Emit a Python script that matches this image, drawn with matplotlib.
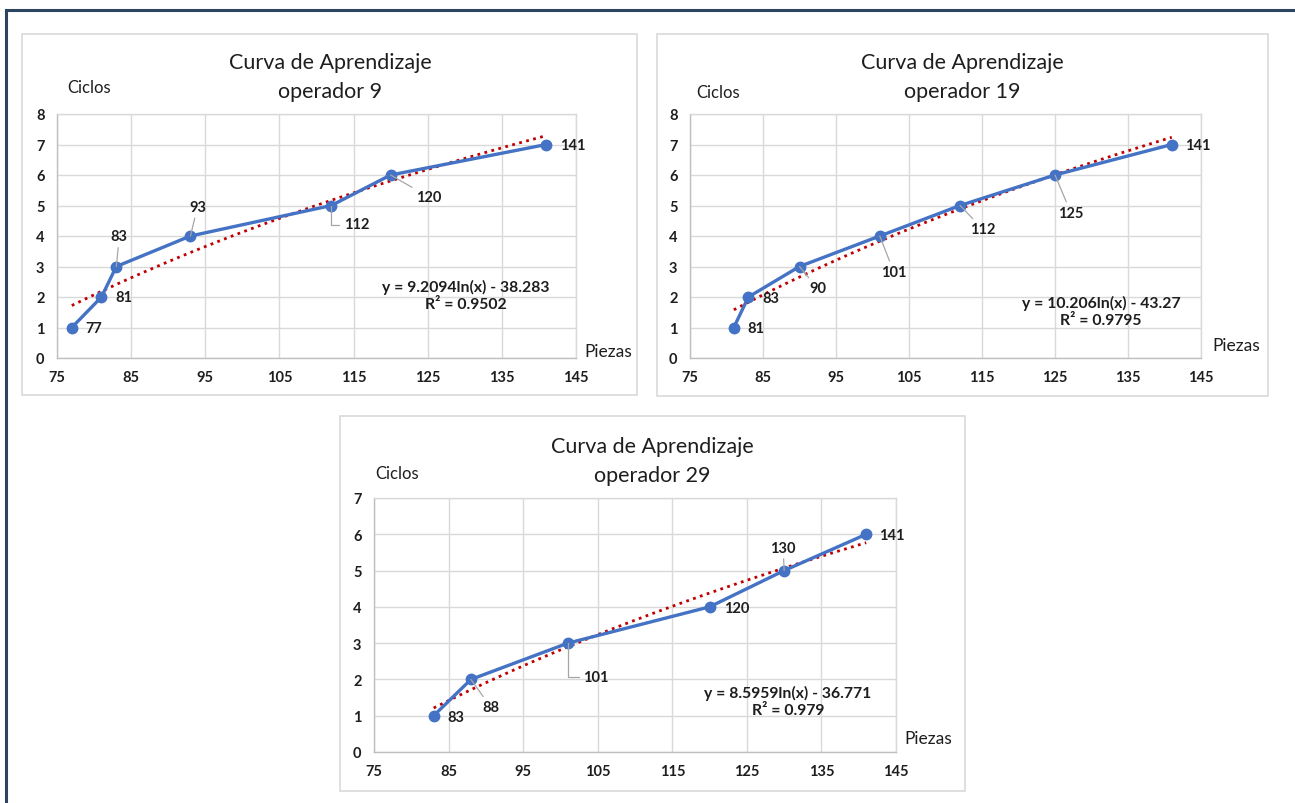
import numpy as np
import matplotlib.pyplot as plt
from matplotlib.patches import Rectangle
from matplotlib.lines import Line2D

plt.rcParams['font.family'] = ['Lato', 'DejaVu Sans']

W, H = 1295, 804

# piezas vs ciclos for each operator
op9_x = [77, 81, 83, 93, 112, 120, 141]
op9_y = [1, 2, 3, 4, 5, 6, 7]
op19_x = [81, 83, 90, 101, 112, 125, 141]
op19_y = [1, 2, 3, 4, 5, 6, 7]
op29_x = [83, 88, 101, 120, 130, 141]
op29_y = [1, 2, 3, 4, 5, 6]

# log trendline coefficients (a*ln(x) + b) and R²
op9_fit = (9.2094, -38.283, 0.9502)
op19_fit = (10.206, -43.27, 0.9795)
op29_fit = (8.5959, -36.771, 0.979)

op9_eq = "y = 9.2094ln(x) - 38.283\nR² = 0.9502"
op19_eq = "y = 10.206ln(x) - 43.27\nR² = 0.9795"
op29_eq = "y = 8.5959ln(x) - 36.771\nR² = 0.979"

x_ticks = [75, 85, 95, 105, 115, 125, 135, 145]

# label offsets in pixels (dx, dy down), leader style: None / 'line' / 'elbow'
op9_lbl = [(22, 1, None), (22, 0, None), (3, -30, 'line'), (7, -29, 'line'),
           (25, 19, 'elbow'), (38, 22, 'line'), (26, 1, None)]
op19_lbl = [(22, 1, None), (22, 1, None), (18, 22, 'line'), (14, 36, 'line'),
            (23, 24, 'line'), (16, 38, 'line'), (26, 1, None)]
op29_lbl = [(22, 1, None), (20, 28, 'line'), (28, 34, 'elbow'), (27, 1, None),
            (-1, -23, 'line'), (26, 1, None)]

BLUE = '#4472C4'
RED = '#C00000'
GRID = '#d9d9d9'
TXT = '#1e1e1e'


def fx(x):
    return x / W


def fy(y):
    return 1 - y / H


fig = plt.figure(figsize=(W / 100, H / 100), dpi=100)

# outer frame (top and left edges only)
fig.add_artist(Line2D([fx(6), fx(W)], [fy(10.5), fy(10.5)], color='#2c4460', lw=2.2))
fig.add_artist(Line2D([fx(6), fx(6)], [fy(10.5), fy(H)], color='#2c4460', lw=2.2))


def panel(box, plot, title, ciclos, piezas, xs, ys, fit, eq, eq_pos, ymax, lbls):
    l, t, r, b = box
    fig.add_artist(Rectangle((fx(l), fy(b)), fx(r - l), (b - t) / H,
                             fill=False, edgecolor='#d9d9d9', lw=1.2))
    pl, pt, pr, pb = plot
    ax = fig.add_axes([fx(pl), fy(pb), fx(pr - pl), (pb - pt) / H])
    ax.set_xlim(75, 145)
    ax.set_ylim(0, ymax)
    ax.set_xticks(x_ticks)
    ax.set_yticks(range(ymax + 1))
    ax.grid(True, color=GRID, lw=1.0)
    ax.set_axisbelow(True)
    for s in ax.spines.values():
        s.set_color(GRID)
        s.set_linewidth(1.0)
    ax.spines['left'].set_color('#bfbfbf')
    ax.spines['bottom'].set_color('#bfbfbf')
    ax.tick_params(length=0, pad=9, labelsize=10.5, labelcolor=TXT)
    for lab in ax.get_xticklabels() + ax.get_yticklabels():
        lab.set_fontweight('bold')

    a, c, r2 = fit
    xt = np.linspace(min(xs), max(xs), 200)
    ax.plot(xt, a * np.log(xt) + c, color=RED, lw=2.0, ls=(0, (1, 1.6)), zorder=3)
    ax.plot(xs, ys, color=BLUE, lw=2.4, marker='o', ms=7.5, zorder=4)

    for xv, yv, (dx, dy, lead) in zip(xs, ys, lbls):
        kw = {}
        if lead:
            props = dict(arrowstyle='-', color='#a6a6a6', lw=0.9, shrinkA=1, shrinkB=0)
            if lead == 'elbow':
                props['connectionstyle'] = 'angle,angleA=0,angleB=90,rad=0'
            kw['arrowprops'] = props
        ax.annotate(str(xv), (xv, yv), xytext=(dx, -dy), textcoords='offset pixels',
                    ha='center', va='center', fontsize=10.5, fontweight='bold',
                    color=TXT, zorder=5, **kw)

    ax.text(eq_pos[0], eq_pos[1], eq, ha='center', va='center', fontsize=11.3,
            fontweight='bold', color=TXT, linespacing=1.25, zorder=5)

    tx, ty1, ty2 = title
    fig.text(fx(tx), fy(ty1), "Curva de Aprendizaje", ha='center', va='center',
             fontsize=15.5, color=TXT)
    fig.text(fx(tx), fy(ty2), ciclos[2], ha='center', va='center',
             fontsize=15.5, color=TXT)
    fig.text(fx(ciclos[0]), fy(ciclos[1]), "Ciclos", ha='center', va='center',
             fontsize=12, color=TXT)
    fig.text(fx(piezas[0]), fy(piezas[1]), "Piezas", ha='center', va='center',
             fontsize=12.5, color=TXT)
    return ax


panel((22, 35, 637, 396), (57, 115, 576, 359), (330, 63, 92),
      (89, 88, "operador 9"), (608, 352), op9_x, op9_y, op9_fit, op9_eq,
      (130.1, 2.07), 8, op9_lbl)
panel((657, 35, 1268, 397), (690, 115, 1201, 359), (962, 63, 92),
      (718, 93, "operador 19"), (1236, 346), op19_x, op19_y, op19_fit, op19_eq,
      (131.3, 1.54), 8, op19_lbl)
panel((340, 417, 965, 792), (374, 499, 896, 753), (652, 447, 476),
      (397, 474, "operador 29"), (928, 739), op29_x, op29_y, op29_fit, op29_eq,
      (130.5, 1.40), 7, op29_lbl)

fig.savefig('out.png', dpi=100, facecolor='white')
